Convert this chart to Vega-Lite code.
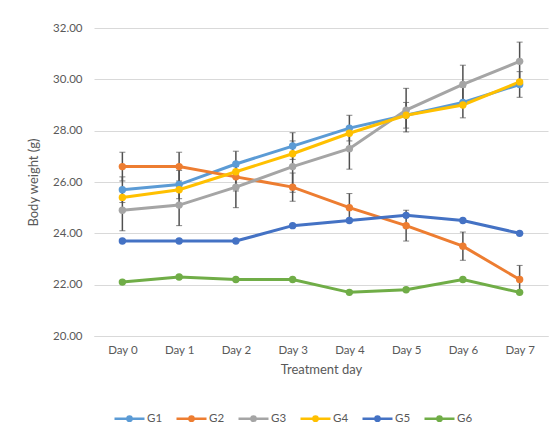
{
  "$schema": "https://vega.github.io/schema/vega-lite/v6.json",
  "width": 454,
  "height": 308,
  "autosize": {"type": "none"},
  "padding": {"left": 94, "top": 28, "right": 10, "bottom": 94},
  "background": "white",
  "config": {
    "font": "Lato",
    "view": {"stroke": null},
    "axis": {"labelColor": "#595959", "titleColor": "#595959", "labelFontSize": 11.5, "titleFontSize": 13, "titleFontWeight": "normal", "gridColor": "#D9D9D9", "ticks": false}
  },
  "data": {"values": [
    {"day": "Day 0", "group": "G1", "weight": 25.7, "err": 0.5},
    {"day": "Day 1", "group": "G1", "weight": 25.9, "err": 0.55},
    {"day": "Day 2", "group": "G1", "weight": 26.7, "err": 0.5},
    {"day": "Day 3", "group": "G1", "weight": 27.4, "err": 0.52},
    {"day": "Day 4", "group": "G1", "weight": 28.1, "err": 0.5},
    {"day": "Day 5", "group": "G1", "weight": 28.6, "err": 0.5},
    {"day": "Day 6", "group": "G1", "weight": 29.1, "err": 0.6},
    {"day": "Day 7", "group": "G1", "weight": 29.8, "err": 0.5},
    {"day": "Day 0", "group": "G2", "weight": 26.6, "err": 0.56},
    {"day": "Day 1", "group": "G2", "weight": 26.6, "err": 0.56},
    {"day": "Day 2", "group": "G2", "weight": 26.2, "err": 0.55},
    {"day": "Day 3", "group": "G2", "weight": 25.8, "err": 0.55},
    {"day": "Day 4", "group": "G2", "weight": 25.0, "err": 0.55},
    {"day": "Day 5", "group": "G2", "weight": 24.3, "err": 0.6},
    {"day": "Day 6", "group": "G2", "weight": 23.5, "err": 0.55},
    {"day": "Day 7", "group": "G2", "weight": 22.2, "err": 0.55},
    {"day": "Day 0", "group": "G3", "weight": 24.9, "err": 0.8},
    {"day": "Day 1", "group": "G3", "weight": 25.1, "err": 0.8},
    {"day": "Day 2", "group": "G3", "weight": 25.8, "err": 0.8},
    {"day": "Day 3", "group": "G3", "weight": 26.6, "err": 1.0},
    {"day": "Day 4", "group": "G3", "weight": 27.3, "err": 0.8},
    {"day": "Day 5", "group": "G3", "weight": 28.8, "err": 0.85},
    {"day": "Day 6", "group": "G3", "weight": 29.8, "err": 0.75},
    {"day": "Day 7", "group": "G3", "weight": 30.7, "err": 0.75},
    {"day": "Day 0", "group": "G4", "weight": 25.4, "err": null},
    {"day": "Day 1", "group": "G4", "weight": 25.7, "err": null},
    {"day": "Day 2", "group": "G4", "weight": 26.4, "err": null},
    {"day": "Day 3", "group": "G4", "weight": 27.1, "err": null},
    {"day": "Day 4", "group": "G4", "weight": 27.9, "err": null},
    {"day": "Day 5", "group": "G4", "weight": 28.6, "err": null},
    {"day": "Day 6", "group": "G4", "weight": 29.0, "err": null},
    {"day": "Day 7", "group": "G4", "weight": 29.9, "err": null},
    {"day": "Day 0", "group": "G5", "weight": 23.7, "err": null},
    {"day": "Day 1", "group": "G5", "weight": 23.7, "err": null},
    {"day": "Day 2", "group": "G5", "weight": 23.7, "err": null},
    {"day": "Day 3", "group": "G5", "weight": 24.3, "err": null},
    {"day": "Day 4", "group": "G5", "weight": 24.5, "err": null},
    {"day": "Day 5", "group": "G5", "weight": 24.7, "err": null},
    {"day": "Day 6", "group": "G5", "weight": 24.5, "err": null},
    {"day": "Day 7", "group": "G5", "weight": 24.0, "err": null},
    {"day": "Day 0", "group": "G6", "weight": 22.1, "err": null},
    {"day": "Day 1", "group": "G6", "weight": 22.3, "err": null},
    {"day": "Day 2", "group": "G6", "weight": 22.2, "err": null},
    {"day": "Day 3", "group": "G6", "weight": 22.2, "err": null},
    {"day": "Day 4", "group": "G6", "weight": 21.7, "err": null},
    {"day": "Day 5", "group": "G6", "weight": 21.8, "err": null},
    {"day": "Day 6", "group": "G6", "weight": 22.2, "err": null},
    {"day": "Day 7", "group": "G6", "weight": 21.7, "err": null}
  ]},
  "encoding": {
    "x": {"field": "day", "type": "ordinal", "scale": {"type": "point", "padding": 0.5},
      "axis": {"title": "Treatment day", "labelAngle": 0, "labelPadding": 8, "titlePadding": 8, "domainColor": "#D9D9D9", "grid": false}},
    "y": {"field": "weight", "type": "quantitative", "scale": {"domain": [20, 32], "nice": false, "zero": false},
      "axis": {"title": "Body weight (g)", "values": [20, 22, 24, 26, 28, 30, 32], "format": ".2f", "domain": false, "labelPadding": 12, "titlePadding": 12}}
  },
  "layer": [
    {
      "transform": [{"filter": "datum.err != null"}],
      "mark": {"type": "errorbar", "ticks": {"size": 6, "color": "#505050", "strokeWidth": 1.5}, "rule": {"color": "#505050", "strokeWidth": 1.5}},
      "encoding": {
        "y": {"field": "weight", "type": "quantitative"},
        "yError": {"field": "err"},
        "detail": {"field": "group"}
      }
    },
    {
      "mark": {"type": "line", "strokeWidth": 3},
      "encoding": {
        "color": {"field": "group", "type": "nominal",
          "scale": {"domain": ["G1", "G2", "G3", "G4", "G5", "G6"], "range": ["#5B9BD5", "#ED7D31", "#A5A5A5", "#FFC000", "#4472C4", "#70AD47"]},
          "legend": {"title": null, "orient": "none", "direction": "horizontal", "legendX": 19, "legendY": 374,
            "symbolType": "M-1,0H1M-0.14,0A0.14,0.14 0 1,0 0.14,0A0.14,0.14 0 1,0 -0.14,0",
            "symbolSize": 900, "symbolStrokeWidth": 2.5, "labelColor": "#595959", "labelFontSize": 11.5, "labelOffset": 1, "columnPadding": 8,
            "encode": {"symbols": {"update": {"fill": {"scale": "color", "field": "value"}, "stroke": {"scale": "color", "field": "value"}, "strokeWidth": {"value": 2.5}}}}}
        }
      }
    },
    {
      "mark": {"type": "point", "filled": true, "size": 55, "opacity": 1},
      "encoding": {
        "color": {"field": "group", "type": "nominal"}
      }
    }
  ]
}
